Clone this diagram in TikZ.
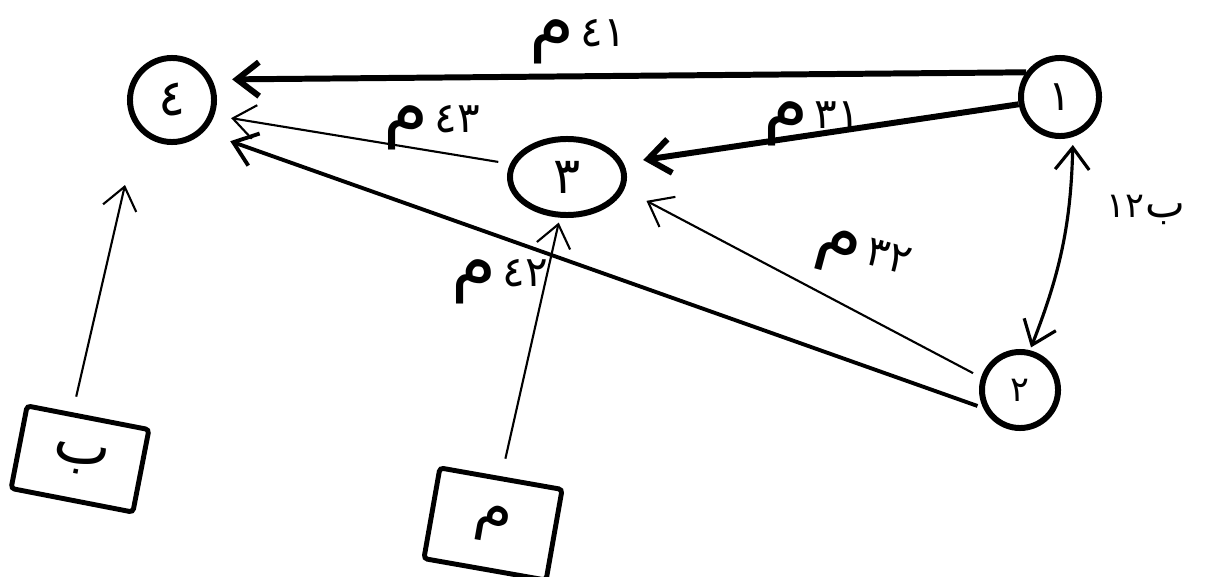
\documentclass[tikz,border=0pt]{standalone}
\usepackage{fontspec}
\newfontfamily\arabicfont[Script=Arabic]{DejaVu Sans}
\usepackage{tikz}
\usetikzlibrary{arrows.meta,shapes.geometric}
\newcommand{\mlbl}[1]{\mbox{\huge م}\,\mbox{\large #1}}

\begin{document}
\begin{tikzpicture}[x=0.01cm,y=-0.01cm,>={Straight Barb[length=2.2mm,width=3.4mm]},
  state/.style={circle,draw,line width=1.7pt,inner sep=0pt,font=\arabicfont\Large},
  srcbox/.style={draw,line width=1.4pt,rounded corners=1pt,minimum width=1.24cm,minimum height=0.84cm,font=\arabicfont\LARGE},
  heavy/.style={->,line width=1.7pt},
  medium/.style={->,line width=1.1pt},
  light/.style={->,line width=0.6pt},
  lbl/.style={font=\arabicfont,inner sep=0pt}]
\useasboundingbox (0,0) rectangle (1207,576);
% states
\node[state,minimum size=0.84cm] (n4) at (172,100) {٤};
\node[state,minimum size=0.78cm,font=\arabicfont\large] (n1) at (1060,97) {١};
\node[state,ellipse,minimum width=1.14cm,minimum height=0.76cm] (n3) at (567,177) {٣};
\node[state,minimum size=0.76cm,font=\arabicfont\normalsize] (n2) at (1020,390) {٢};
% sources
\node[srcbox,rotate=-11] (sb) at (80,459) {\raisebox{-0.2cm}{ب}};
\node[srcbox,rotate=-10,minimum height=0.92cm] (sm) at (493,524) {م};
\coordinate (t4) at (125,185);
% flows
\draw[heavy,shorten >=0.2cm] (n1.144) -- (n4.27);
\draw[heavy,shorten >=0.2cm] (n1.190) -- (n3.14);
\draw[light,shorten <=0.12cm,shorten >=0.17cm] (n3.167) -- (n4.-20);
\draw[light,shorten <=0.09cm,shorten >=0.25cm] (n2.162) -- (n3.-12);
\draw[medium,shorten <=0.06cm,shorten >=0.28cm] (n2.206) -- (n4.-45);
\draw[<->,line width=0.9pt,shorten <=0.08cm,shorten >=0.03cm] (n1.-72) to[bend left=10] (n2.76);
\draw[light,shorten <=0.16cm] (sb.110) -- (t4);
\draw[light,shorten <=0.18cm,shorten >=0.05cm] (sm.north) -- (n3.260);
% labels
\node[lbl] (l41) at (578,42) {\mlbl{٤١}};
\node[lbl] (l31) at (812,124) {\mlbl{٣١}};
\node[lbl] (l43) at (432,128) {\mlbl{٤٣}};
\node[lbl] (l42) at (500,282) {\mlbl{٤٢}};
\node[lbl,rotate=-15] (l32) at (862,258) {\mlbl{٣٢}};
\node[lbl] (l12) at (1125,206) {١٢};
\node[lbl,font=\arabicfont\large] (l12b) at (1165,214) {ب};
\end{tikzpicture}
\end{document}
